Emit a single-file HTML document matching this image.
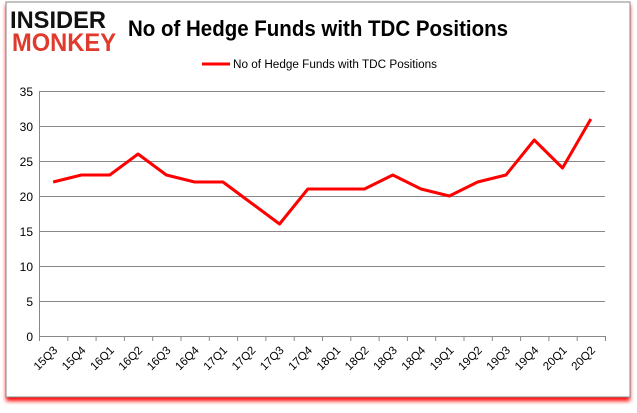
<!DOCTYPE html>
<html><head><style>
body{margin:0;background:#fff;width:637px;height:408px;overflow:hidden;font-family:"Liberation Sans",sans-serif}
</style></head><body>
<svg width="637" height="408" xmlns="http://www.w3.org/2000/svg">
<defs><filter id="b" x="-5%" y="-5%" width="110%" height="115%"><feGaussianBlur stdDeviation="2"/></filter></defs>
<rect x="6" y="5" width="624" height="396" fill="#f00" filter="url(#b)"/>
<rect x="6" y="2" width="624" height="395" fill="#fff" stroke="#888" stroke-width="1"/>
<text x="10" y="28" font-family="Liberation Sans" font-weight="bold" font-size="24" fill="#111" textLength="96" lengthAdjust="spacingAndGlyphs">INSIDER</text>
<text x="12" y="51" font-family="Liberation Sans" font-weight="bold" font-size="25" fill="#e03a2c" textLength="104" lengthAdjust="spacingAndGlyphs">MONKEY</text>
<text x="128" y="36" font-size="22" font-weight="bold" fill="#000" textLength="380" lengthAdjust="spacingAndGlyphs">No of Hedge Funds with TDC Positions</text>
<line x1="202" y1="64" x2="230" y2="64" stroke="#f00" stroke-width="3"/>
<text x="233" y="68" font-size="11.5" fill="#000" textLength="204" lengthAdjust="spacingAndGlyphs">No of Hedge Funds with TDC Positions</text>
<g stroke="#888" stroke-width="1">
<line x1="39" y1="91.5" x2="605" y2="91.5"/><line x1="39" y1="126.5" x2="605" y2="126.5"/>
<line x1="39" y1="161.5" x2="605" y2="161.5"/><line x1="39" y1="196.5" x2="605" y2="196.5"/>
<line x1="39" y1="231.5" x2="605" y2="231.5"/><line x1="39" y1="266.5" x2="605" y2="266.5"/>
<line x1="39" y1="301.5" x2="605" y2="301.5"/><line x1="39" y1="336.5" x2="605" y2="336.5"/>
<line x1="39.5" y1="91" x2="39.5" y2="336"/>
</g>
<g font-size="12" fill="#000" text-anchor="end">
<text x="33" y="96">35</text><text x="33" y="131">30</text><text x="33" y="166">25</text><text x="33" y="201">20</text><text x="33" y="236">15</text><text x="33" y="271">10</text><text x="33" y="306">5</text><text x="33" y="341">0</text>
</g>
<g id="ticks" stroke="#888"></g>
<g id="labs" font-size="11.5" fill="#000" text-anchor="end"></g>
<polyline id="ln" fill="none" stroke="#f00" stroke-width="3" stroke-linejoin="round"/>
</svg>
<script>
var d=[22,23,23,26,23,22,22,19,16,21,21,21,23,21,20,22,23,28,24,31];
var l=["15Q3","15Q4","16Q1","16Q2","16Q3","16Q4","17Q1","17Q2","17Q3","17Q4","18Q1","18Q2","18Q3","18Q4","19Q1","19Q2","19Q3","19Q4","20Q1","20Q2"];
var ns="http://www.w3.org/2000/svg",w=566/20,p=[],t=document.getElementById("ticks"),lb=document.getElementById("labs");
for(var i=0;i<=20;i++){var x=39.5+i*w;var e=document.createElementNS(ns,"line");e.setAttribute("x1",x);e.setAttribute("x2",x);e.setAttribute("y1",336);e.setAttribute("y2",341);t.appendChild(e);}
for(var i=0;i<20;i++){var x=39+w/2+i*w;p.push(x+","+(336-d[i]*7));
var s=document.createElementNS(ns,"text");s.setAttribute("transform","translate("+(x+5)+",351) rotate(-45)");s.textContent=l[i];lb.appendChild(s);}
document.getElementById("ln").setAttribute("points",p.join(" "));
</script>
</body></html>
